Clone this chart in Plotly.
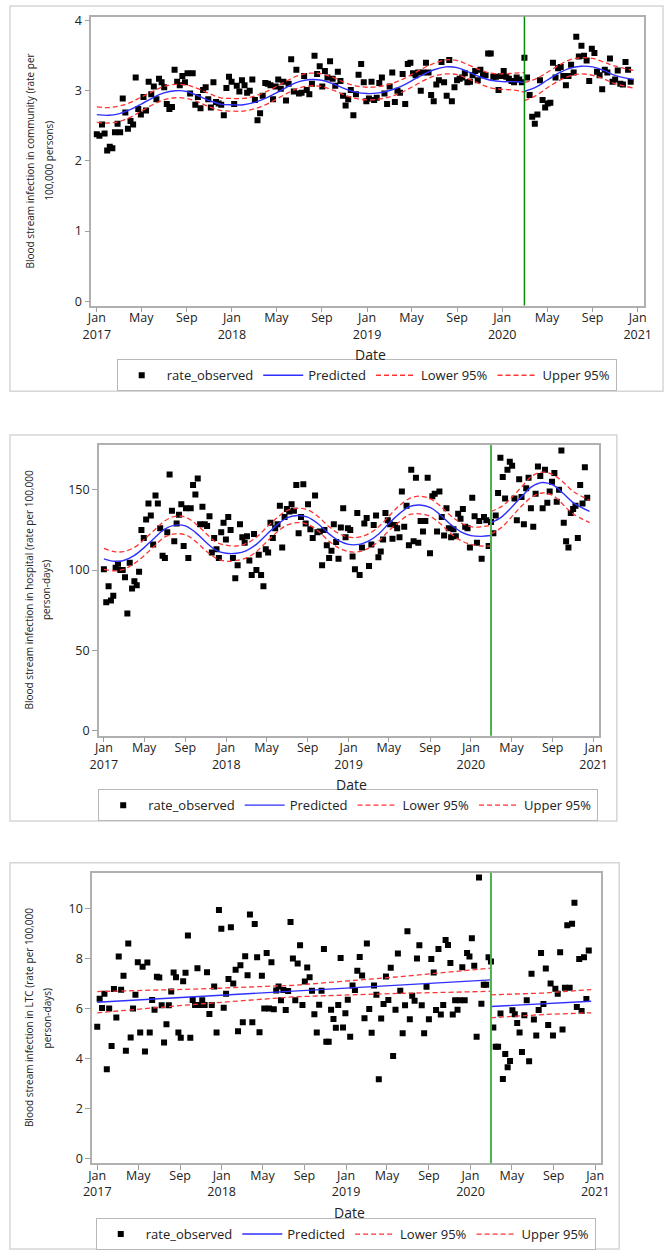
import plotly.graph_objects as go
import pandas as pd

W, H = 672, 1254

# ---------------- data ----------------
comm_rate = [
    2.38, 2.36, 2.52, 2.39, 2.15, 2.20, 2.18, 2.41, 2.53, 2.41,
    2.89, 2.69, 2.46, 2.57, 2.52, 3.19, 2.74, 2.66, 2.91, 2.72,
    3.13, 2.95, 3.06, 2.88, 3.17, 3.12, 3.05, 2.81, 2.74, 2.77,
    3.30, 3.13, 3.08, 3.21, 3.12, 3.25, 2.96, 3.25, 2.80, 2.91,
    2.75, 3.01, 3.05, 2.88, 2.76, 3.12, 2.84, 2.82, 2.80, 2.65,
    3.04, 3.20,
    3.13, 2.81, 3.07, 2.99, 3.15, 3.08, 2.97, 3.00, 3.16, 2.87,
    2.58, 2.68, 2.93, 3.11, 3.10, 3.08, 2.88, 3.06, 3.16, 3.03,
    3.13, 2.86, 3.10, 3.45, 2.99, 3.30, 2.96, 2.97, 3.21, 3.01,
    2.95, 3.10, 3.50, 3.24, 3.35, 3.06, 3.28, 3.19, 3.42, 3.17,
    3.07, 3.27, 3.14, 2.93, 2.79, 2.88, 3.01, 2.65, 2.95, 3.23,
    3.38, 3.12,
    2.85, 2.89, 3.13, 2.87, 2.90, 3.11, 3.19, 2.96, 2.81, 3.06,
    3.26, 2.84, 3.00, 2.97, 3.24, 2.81, 3.38, 3.40, 3.25, 3.22,
    3.26, 3.00, 3.26, 3.40, 3.26, 2.94, 2.85, 3.09, 3.15, 3.41,
    3.12, 2.93, 3.44, 2.85, 3.05, 3.15, 3.17, 3.19, 3.25, 3.12,
    3.13, 3.22, 3.28, 3.15, 3.30, 3.22, 3.22, 3.53, 3.53, 3.20,
    3.20, 3.01,
    3.21, 3.28, 3.20, 3.17, 3.14, 3.12, 3.19, 3.16, 3.12, 3.47,
    3.19, 2.94, 2.63, 2.53, 2.66, 3.15, 2.87, 2.76, 2.82, 2.83,
    3.40, 3.19, 3.32, 3.34, 3.21, 3.08, 3.21, 3.37, 3.26, 3.77,
    3.49, 3.64, 3.50, 3.43, 3.14, 3.60, 3.54, 3.27, 3.22, 3.02,
    3.30, 3.26, 3.46, 3.13, 3.16, 3.29, 3.10, 3.09, 3.41, 3.30,
    3.13,
]

hosp_rate = [
    100.5, 80, 90, 81, 84, 101.5, 104, 100, 100, 95.5,
    73, 104.5, 88.5, 93, 90.5, 99, 125, 120, 131.5, 141.5,
    134, 116, 146.5, 141.5, 126, 109, 107.5, 123.5, 159.5, 137,
    118, 129, 134.5, 141, 115, 138.5, 107.5, 138.5, 153, 147,
    157, 128.5, 139.5, 128.5, 127.5, 133.5, 111, 120, 113, 107.5,
    123.5, 129.5, 119, 133, 125, 107.5, 95, 103, 128.5, 120.5,
    117, 121, 106, 97, 122.5, 100, 109.5, 97, 90, 113,
    111, 129.5, 120, 126, 128.5, 140, 114, 133, 138, 136.5,
    141, 137, 153, 123, 133, 153.5, 129, 141, 125.5, 120,
    146.5, 123.5, 124, 103, 125, 115.5, 107.5, 112, 128.5, 117.5,
    107, 126.5, 138.5, 120.5, 126, 125, 108.5, 100.5, 135.5, 97,
    114, 129, 132.5, 102.5, 116, 128, 134, 108, 111.5, 119,
    135.5, 131, 128.5, 119.5, 128, 126, 120.5, 149, 127, 140,
    115.5, 162.5, 118, 157.5, 117, 130.5, 124, 130.5, 157.5, 110.5,
    146, 147.5, 124, 149, 133, 121.5, 138.5, 126, 120.5, 125.5,
    121, 135, 132, 138, 127, 126, 114, 145, 133.5, 117,
    130.5, 107, 133, 131, 115,
    130, 123, 134, 148, 170, 158, 144.5, 162.5, 167.5, 165,
    144.5, 131, 156.5, 145.5, 128.5, 151, 157.5, 138.5, 127, 147.5,
    164.5, 158.5, 138.5, 162.5, 142, 149, 155, 160.5, 142.5, 150,
    174.5, 129.5, 118, 114, 135.5, 138, 140, 120, 153, 141.5,
    164, 145,
]

ltc_rate = [
    5.27, 6.39, 6.02, 6.59, 3.57, 6.00, 4.50, 6.78, 5.64, 8.08,
    6.75, 7.31, 4.31, 8.61, 4.84, 6.00, 6.55, 7.85, 5.04, 7.67,
    4.28, 7.84, 5.04, 6.34, 5.95, 7.27, 7.24, 6.13, 4.64, 5.37,
    6.13, 6.68, 7.44, 7.25, 5.04, 4.83, 7.09, 7.43, 8.93, 4.83,
    6.34, 6.14, 7.61, 6.14, 6.33, 6.14, 7.45, 5.78, 6.14, 6.88,
    5.04, 9.95, 9.20, 6.03, 6.59, 7.18, 9.26, 7.00, 7.55, 5.09,
    7.73, 5.45, 8.09, 7.33, 9.77, 5.45, 9.39, 8.05, 5.05, 7.31,
    6.00, 8.22, 6.00, 7.85, 5.97, 6.72, 6.88, 6.33, 6.74, 5.94,
    6.70, 9.47, 8.00, 6.33, 7.80, 8.54, 6.14, 7.08, 7.64, 7.25,
    6.71, 5.77, 5.04, 6.15, 6.71, 8.38, 4.67, 4.67, 5.95, 5.58,
    5.23, 6.14, 8.02, 5.24, 5.81, 6.35, 4.87, 6.92, 6.74, 7.51,
    8.06, 7.32, 5.61, 8.61, 5.98, 5.03, 6.92, 6.55, 3.17, 5.60,
    6.18, 7.28, 6.34, 7.63, 4.10, 5.95, 8.20, 6.71, 5.01, 6.13,
    9.10, 5.57, 6.51, 6.31, 8.00, 8.54, 6.13, 5.01, 6.87, 5.57,
    7.98, 7.44, 5.94, 8.38, 5.76, 6.14, 8.75, 8.55, 7.82, 5.76,
    6.33, 5.95, 6.33, 7.65, 6.33, 8.22, 8.08, 8.82, 7.71, 4.87,
    11.25, 6.19, 6.95, 6.95, 8.05, 7.88,
    5.24, 4.47, 4.47, 5.80, 3.18, 4.18, 3.65, 3.90, 5.93, 5.77,
    5.42, 5.04, 4.26, 5.73, 6.33, 3.89, 7.39, 5.56, 4.92, 5.94,
    8.22, 6.18, 7.60, 5.34, 7.00, 4.92, 6.79, 6.59, 8.25, 5.16,
    6.83, 9.34, 6.83, 9.40, 10.24, 6.06, 7.98, 5.90, 8.05, 6.38,
    8.32,
]

# model curves (monthly readings, pre- and post-intervention segments)
comm_pred_pre = [2.66, 2.65, 2.67, 2.73, 2.81, 2.90, 2.97, 3.00, 2.99, 2.93, 2.86, 2.81,
                 2.80, 2.80, 2.83, 2.89, 2.97, 3.06, 3.13, 3.16, 3.15, 3.10, 3.03, 2.98,
                 2.96, 2.97, 3.00, 3.06, 3.14, 3.23, 3.30, 3.34, 3.33, 3.27, 3.20, 3.15,
                 3.13, 3.13, 3.12]
comm_up_pre = [2.77, 2.76, 2.78, 2.83, 2.91, 2.99, 3.06, 3.09, 3.08, 3.03, 2.96, 2.90,
               2.89, 2.89, 2.92, 2.98, 3.06, 3.15, 3.22, 3.25, 3.24, 3.19, 3.12, 3.07,
               3.05, 3.06, 3.09, 3.15, 3.23, 3.32, 3.39, 3.44, 3.43, 3.37, 3.30, 3.25,
               3.24, 3.25, 3.26]
comm_low_pre = [2.55, 2.54, 2.56, 2.62, 2.71, 2.80, 2.87, 2.90, 2.89, 2.84, 2.77, 2.72,
                2.71, 2.71, 2.74, 2.80, 2.88, 2.97, 3.04, 3.07, 3.06, 3.01, 2.94, 2.89,
                2.87, 2.88, 2.91, 2.97, 3.05, 3.14, 3.21, 3.24, 3.23, 3.17, 3.10, 3.04,
                3.02, 3.01, 2.98]
comm_pred_post = [2.99, 3.05, 3.15, 3.25, 3.32, 3.35, 3.34, 3.29, 3.22, 3.16]
comm_up_post = [3.12, 3.17, 3.26, 3.36, 3.44, 3.47, 3.46, 3.41, 3.35, 3.29]
comm_low_post = [2.86, 2.93, 3.04, 3.14, 3.21, 3.24, 3.22, 3.17, 3.10, 3.04]

hosp_pred_pre = [107, 105.5, 106, 109, 114, 120, 125.5, 128, 127.5, 123.5, 117.5, 112.5,
                 110.5, 110.5, 112, 116, 122, 128, 132.5, 134, 133, 129, 123, 118.5,
                 116, 116, 118, 122.5, 129, 135, 139.5, 140.5, 139, 134.5, 128.5, 124,
                 121.5, 121, 121.5]
hosp_up_pre = [113.5, 111.5, 111.5, 114, 119, 125, 130.5, 133.5, 133, 129, 123, 117.5,
               115.5, 115, 116.5, 120.5, 126.5, 132.5, 137, 138.5, 137.5, 133.5, 127.5, 123,
               120.5, 120.5, 122.5, 127, 133.5, 140, 144.5, 146, 144.5, 140, 134, 129.5,
               127, 127, 128]
hosp_low_pre = [100.5, 99.5, 100.5, 104, 109, 115, 120.5, 122.5, 122, 118, 112, 107.5,
                105.5, 106, 107.5, 111.5, 117.5, 123.5, 128, 129.5, 128.5, 124.5, 118.5, 114,
                111.5, 111.5, 113.5, 118, 124.5, 130, 134.5, 135, 133.5, 129, 123, 118.5,
                116, 115, 115]
hosp_pred_post = [129.5, 133, 139, 146, 152, 154.5, 153, 148, 142, 136.5]
hosp_up_post = [136.5, 139.5, 145, 152, 158.5, 161, 159.5, 155, 149, 143.5]
hosp_low_post = [122.5, 126.5, 133, 140, 145.5, 148, 146.5, 141, 135, 129.5]

ltc_pred_pre = [6.25, 6.475, 6.70, 6.925, 7.15]
ltc_up_pre = [6.68, 6.78, 6.93, 7.25, 7.62]
ltc_low_pre = [5.83, 6.17, 6.47, 6.60, 6.69]
ltc_pred_post = [6.08, 6.19, 6.29]
ltc_up_post = [6.55, 6.62, 6.76]
ltc_low_post = [5.63, 5.76, 5.83]

first_week = "2017-01-01"
intervention = "2020-03-01"
pre_month_dates = list(pd.date_range("2017-01-01", "2020-03-01", freq="MS"))
post_month_dates = list(pd.date_range("2020-03-01", "2020-11-01", freq="MS")) + [pd.Timestamp("2020-12-20")]
ltc_pre_dates = ["2017-01-01", "2017-10-16", "2018-08-01", "2019-05-16", "2020-03-01"]
ltc_post_dates = ["2020-03-01", "2020-08-01", "2020-12-20"]

tick_dates = ["2017-01-01", "2017-05-01", "2017-09-01", "2018-01-01", "2018-05-01", "2018-09-01",
              "2019-01-01", "2019-05-01", "2019-09-01", "2020-01-01", "2020-05-01", "2020-09-01",
              "2021-01-01"]
tick_labels = ["Jan<br>2017", "May", "Sep", "Jan<br>2018", "May", "Sep", "Jan<br>2019", "May",
               "Sep", "Jan<br>2020", "May", "Sep", "Jan<br>2021"]

legend_names = ["rate_observed", "Predicted", "Lower 95%", "Upper 95%"]

# ---------------- layout helpers ----------------
FONT = "Open Sans"
TXT = "#222222"


def fx(p):
    return p / W


def fy(p):
    return 1 - p / H


panels = [
    dict(rate=comm_rate,
         pre=(pre_month_dates, comm_pred_pre, comm_low_pre, comm_up_pre),
         post=(post_month_dates, comm_pred_post, comm_low_post, comm_up_post),
         plot=(84.4, 11.7, 651.5, 302.7), yrange=[-0.062, 4.057], yticks=[0, 1, 2, 3, 4],
         box=(1, 1, 671, 389),
         ytitle=["Blood stream infection in community (rate per", "100,000 persons)"],
         ytx=[22, 41.6], datey=352.5, leg=(367, 373), green="#0a8a0a", gw=1.5),
    dict(rate=hosp_rate,
         pre=(pre_month_dates, hosp_pred_pre, hosp_low_pre, hosp_up_pre),
         post=(post_month_dates, hosp_pred_post, hosp_low_post, hosp_up_post),
         plot=(92.2, 443.3, 605.6, 736), yrange=[-3.1, 177.8], yticks=[0, 50, 100, 150],
         box=(1, 433, 623.6, 822),
         ytitle=["Blood stream infection in hospital (rate per 100,000", "person-days)"],
         ytx=[20.6, 38.6], datey=785.5, leg=(348, 806), green="#4caf50", gw=2),
    dict(rate=ltc_rate,
         pre=(ltc_pre_dates, ltc_pred_pre, ltc_low_pre, ltc_up_pre),
         post=(ltc_post_dates, ltc_pred_post, ltc_low_post, ltc_up_post),
         plot=(85.3, 874, 607.4, 1166.7), yrange=[-0.2, 11.44], yticks=[0, 2, 4, 6, 8, 10],
         box=(1, 864, 626, 1253),
         ytitle=["Blood stream infection in LTC (rate per 100,000", "person-days)"],
         ytx=[20.6, 39.4], datey=1216.5, leg=(345.5, 1238), green="#4caf50", gw=2),
]

fig = go.Figure()
shapes = []
annotations = []
layout = {}

for i, p in enumerate(panels, start=1):
    sfx = "" if i == 1 else str(i)
    xa, ya, lg = "x" + sfx, "y" + sfx, "legend" + sfx
    dates = pd.date_range(first_week, periods=len(p["rate"]), freq="7D")
    fig.add_trace(go.Scatter(x=dates, y=p["rate"], mode="markers", name=legend_names[0],
                             marker=dict(symbol="square", size=6, color="black"),
                             xaxis=xa, yaxis=ya, legend=lg))
    styles = [dict(color="#2f2fff", width=1.4),
              dict(color="#ff3333", width=1.3, dash="5px,3px"),
              dict(color="#ff3333", width=1.3, dash="5px,3px")]
    for k, (nm, st) in enumerate(zip(legend_names[1:], styles)):
        for seg_i, seg in enumerate([p["pre"], p["post"]]):
            st2 = dict(st)
            if i < 3:
                st2["shape"] = "spline"
                st2["smoothing"] = 1.0
            fig.add_trace(go.Scatter(x=seg[0], y=seg[k + 1], mode="lines", name=nm,
                                     line=st2, showlegend=(seg_i == 0),
                                     legendgroup=nm + sfx,
                                     xaxis=xa, yaxis=ya, legend=lg))
    x0, y0, x1, y1 = p["plot"]
    axis_common = dict(showline=True, mirror=True, linecolor="#b0b0b0", linewidth=1.5,
                       ticks="outside", ticklen=5, tickcolor="#a0a0a0", tickwidth=1,
                       showgrid=False, zeroline=False,
                       tickfont=dict(family=FONT, size=12.5, color=TXT))
    layout["xaxis" + sfx] = dict(axis_common, type="date", domain=[fx(x0), fx(x1)],
                                 anchor=ya, range=["2016-12-17", "2021-01-18"],
                                 tickmode="array", tickvals=tick_dates, ticktext=tick_labels,
                                 ticklabelstandoff=-5)
    layout["yaxis" + sfx] = dict(axis_common, domain=[fy(y1), fy(y0)], anchor=xa,
                                 range=p["yrange"], tickmode="array", tickvals=p["yticks"])
    # outer panel box
    bx0, by0, bx1, by1 = p["box"]
    shapes.append(dict(type="rect", xref="paper", yref="paper", x0=fx(bx0), x1=fx(bx1),
                       y0=fy(by1), y1=fy(by0), line=dict(color="#d6d6d6", width=1.5),
                       layer="below"))
    # intervention line
    shapes.append(dict(type="line", xref=xa, yref=ya + " domain", x0=intervention,
                       x1=intervention, y0=0, y1=1, line=dict(color=p["green"], width=p["gw"])))
    # axis titles
    annotations.append(dict(x=fx((x0 + x1) / 2 + 3), y=fy(p["datey"]), xref="paper",
                            yref="paper", text="Date", showarrow=False,
                            xanchor="center", yanchor="middle",
                            font=dict(family=FONT, size=14, color=TXT)))
    for line_txt, tx in zip(p["ytitle"], p["ytx"]):
        annotations.append(dict(x=fx(tx), y=fy((y0 + y1) / 2), xref="paper", yref="paper",
                                text=line_txt, showarrow=False, textangle=-90,
                                xanchor="center", yanchor="middle",
                                font=dict(family=FONT, size=10, color=TXT)))
    lx, ly = p["leg"]
    layout[lg] = dict(orientation="h", x=fx(lx), y=fy(ly), xanchor="center",
                      yanchor="middle", bordercolor="#b8b8b8", borderwidth=1,
                      bgcolor="white", font=dict(family=FONT, size=13, color=TXT),
                      itemwidth=40)

fig.update_layout(width=W, height=H, margin=dict(l=0, r=0, t=0, b=0),
                  paper_bgcolor="white", plot_bgcolor="white",
                  font=dict(family=FONT, color=TXT),
                  shapes=shapes, annotations=annotations, **layout)

fig.write_html("out.html", config={"displayModeBar": False},
               post_script="document.body.style.margin='0';")
